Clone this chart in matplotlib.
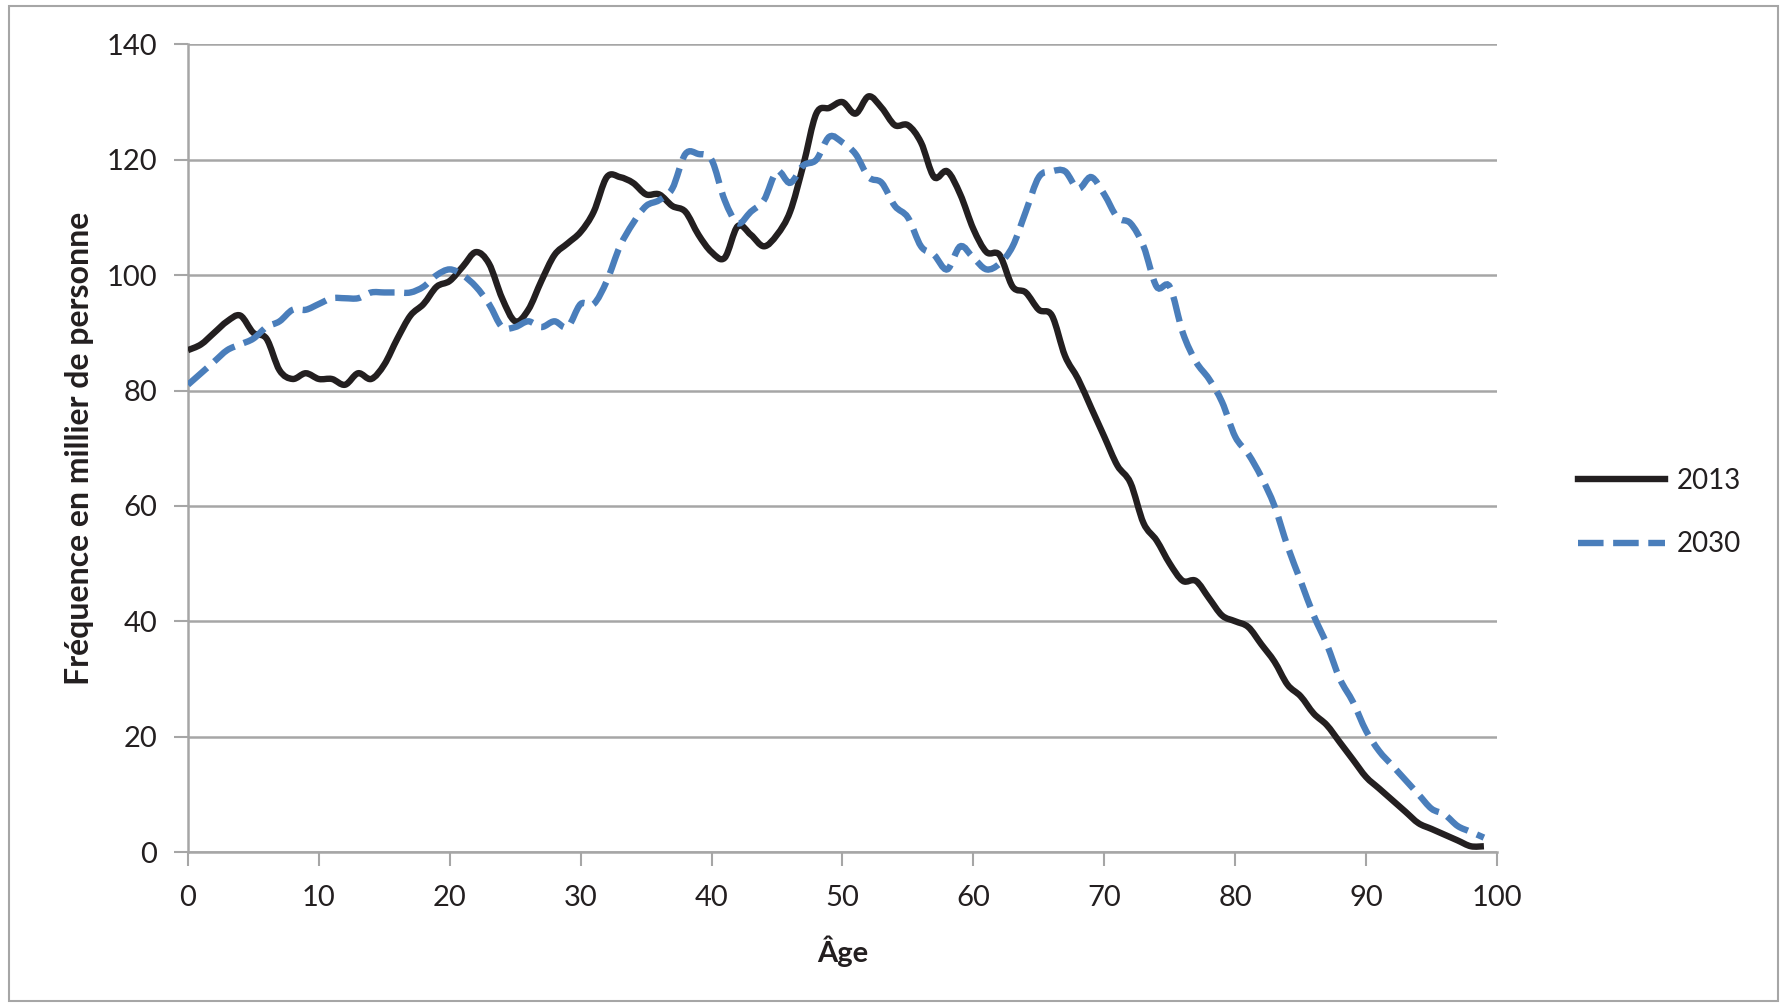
import numpy as np
import matplotlib
matplotlib.use("Agg")
import matplotlib.pyplot as plt
from matplotlib.patches import Rectangle, PathPatch
from matplotlib.path import Path
from matplotlib.lines import Line2D

ages = list(range(0, 100))

pop_2013 = [87, 88, 90, 92, 93, 90, 89, 83.5, 82, 83,
            82, 82, 81, 83, 82, 84.5, 89, 93, 95, 98,
            99, 101.5, 104, 102, 96, 92, 94, 99, 103.5, 105.5,
            107.5, 111, 117, 117, 116, 114, 114, 112, 111, 107,
            104, 103, 108.5, 107, 105, 107, 111, 119, 128, 129,
            130, 128, 131, 129, 126, 126, 123, 117, 118, 114,
            108, 104, 103.5, 98, 97, 94, 93, 86, 82, 77,
            72, 67, 64, 57, 54, 50, 47, 47, 44, 41,
            40, 39, 36, 33, 29, 27, 24, 22, 19, 16,
            13, 11, 9, 7, 5, 4, 3, 2, 1, 1]

pop_2030 = [81, 83, 85, 87, 88, 89, 91, 92, 94, 94,
            95, 96, 96, 96, 97, 97, 97, 97, 98, 100,
            101, 100, 98, 95, 91, 91, 92, 91, 92, 91,
            95, 95, 99, 105, 109, 112, 113, 115, 121, 121,
            120, 113, 109, 111, 113, 118, 116, 119, 120, 124,
            123, 121, 117, 116, 112, 110, 105, 103.5, 101, 105,
            103, 101, 102, 105, 111, 117, 118, 118, 115, 117,
            114, 110, 109, 105, 98, 98, 90, 85, 82, 78,
            72, 69, 65, 60, 53, 47, 41, 36, 30, 26,
            21, 17.5, 15, 12.5, 10, 7.5, 6.5, 4.5, 3.5, 2.5]

series_names = ["2013", "2030"]
x_ticks = list(range(0, 101, 10))
y_ticks = list(range(0, 141, 20))

grid_col = "#A6A6A6"
txt_col = "#231F20"
col_2013 = "#231F20"
col_2030 = "#4A7EBB"


def smooth_path(x, y):
    # Bezier path through the points, like Excel's "smoothed line"
    pts = np.column_stack([x, y]).astype(float)
    n = len(pts)
    verts = [pts[0]]
    codes = [Path.MOVETO]
    for i in range(n - 1):
        p0 = pts[max(i - 1, 0)]
        p1 = pts[i]
        p2 = pts[i + 1]
        p3 = pts[min(i + 2, n - 1)]
        c1 = p1 + (p2 - p0) / 6.0
        c2 = p2 - (p3 - p1) / 6.0
        verts += [c1, c2, p2]
        codes += [Path.CURVE4] * 3
    return Path(verts, codes)


plt.rcParams["font.family"] = ["Lato", "DejaVu Sans"]

fig = plt.figure(figsize=(17.83, 10.07), dpi=100)
ax = fig.add_axes([0.1054, 0.1539, 0.7342, 0.802])

ax.add_patch(PathPatch(smooth_path(ages, pop_2013), fill=False, edgecolor=col_2013,
                       lw=4.6, joinstyle="round", capstyle="butt", zorder=3))
ax.add_patch(PathPatch(smooth_path(ages, pop_2030), fill=False, edgecolor=col_2030,
                       lw=4.6, linestyle=(0, (4.0, 1.5)), capstyle="butt", zorder=3))

ax.set_xlim(0, 100)
ax.set_ylim(0, 140)
ax.set_xticks(x_ticks)
ax.set_yticks(y_ticks)
ax.yaxis.grid(True, color=grid_col, lw=1.8)
ax.set_axisbelow(True)

for s in ["top", "right"]:
    ax.spines[s].set_visible(False)
for s in ["left", "bottom"]:
    ax.spines[s].set_color(grid_col)
    ax.spines[s].set_linewidth(1.8)

ax.tick_params(axis="both", colors=grid_col, length=10, width=1.5,
               labelcolor=txt_col, labelsize=21)
ax.tick_params(axis="x", pad=14)
ax.tick_params(axis="y", pad=12)

ax.set_xlabel("Âge", fontsize=21, fontweight="bold", color=txt_col)
ax.xaxis.set_label_coords(0.5, -0.103)
ax.set_ylabel("Fréquence en millier de personne", fontsize=23,
              fontweight="bold", color=txt_col)
ax.yaxis.set_label_coords(-0.072, 0.5)

handles = [Line2D([], [], color=col_2013, lw=4.6),
           Line2D([], [], color=col_2030, lw=4.6, dashes=(4.0, 1.5))]
fig.legend(handles, series_names, loc="center left", bbox_to_anchor=(0.885, 0.491),
           frameon=False, fontsize=20, handlelength=3.15, handletextpad=0.42,
           labelspacing=1.35, borderpad=0, borderaxespad=0, labelcolor=txt_col)

# outer chart border
fig.patches.append(Rectangle((0.005, 0.006), 0.992, 0.988, transform=fig.transFigure,
                             fill=False, edgecolor=grid_col, lw=1.5))

fig.savefig("out.png", dpi=100)
